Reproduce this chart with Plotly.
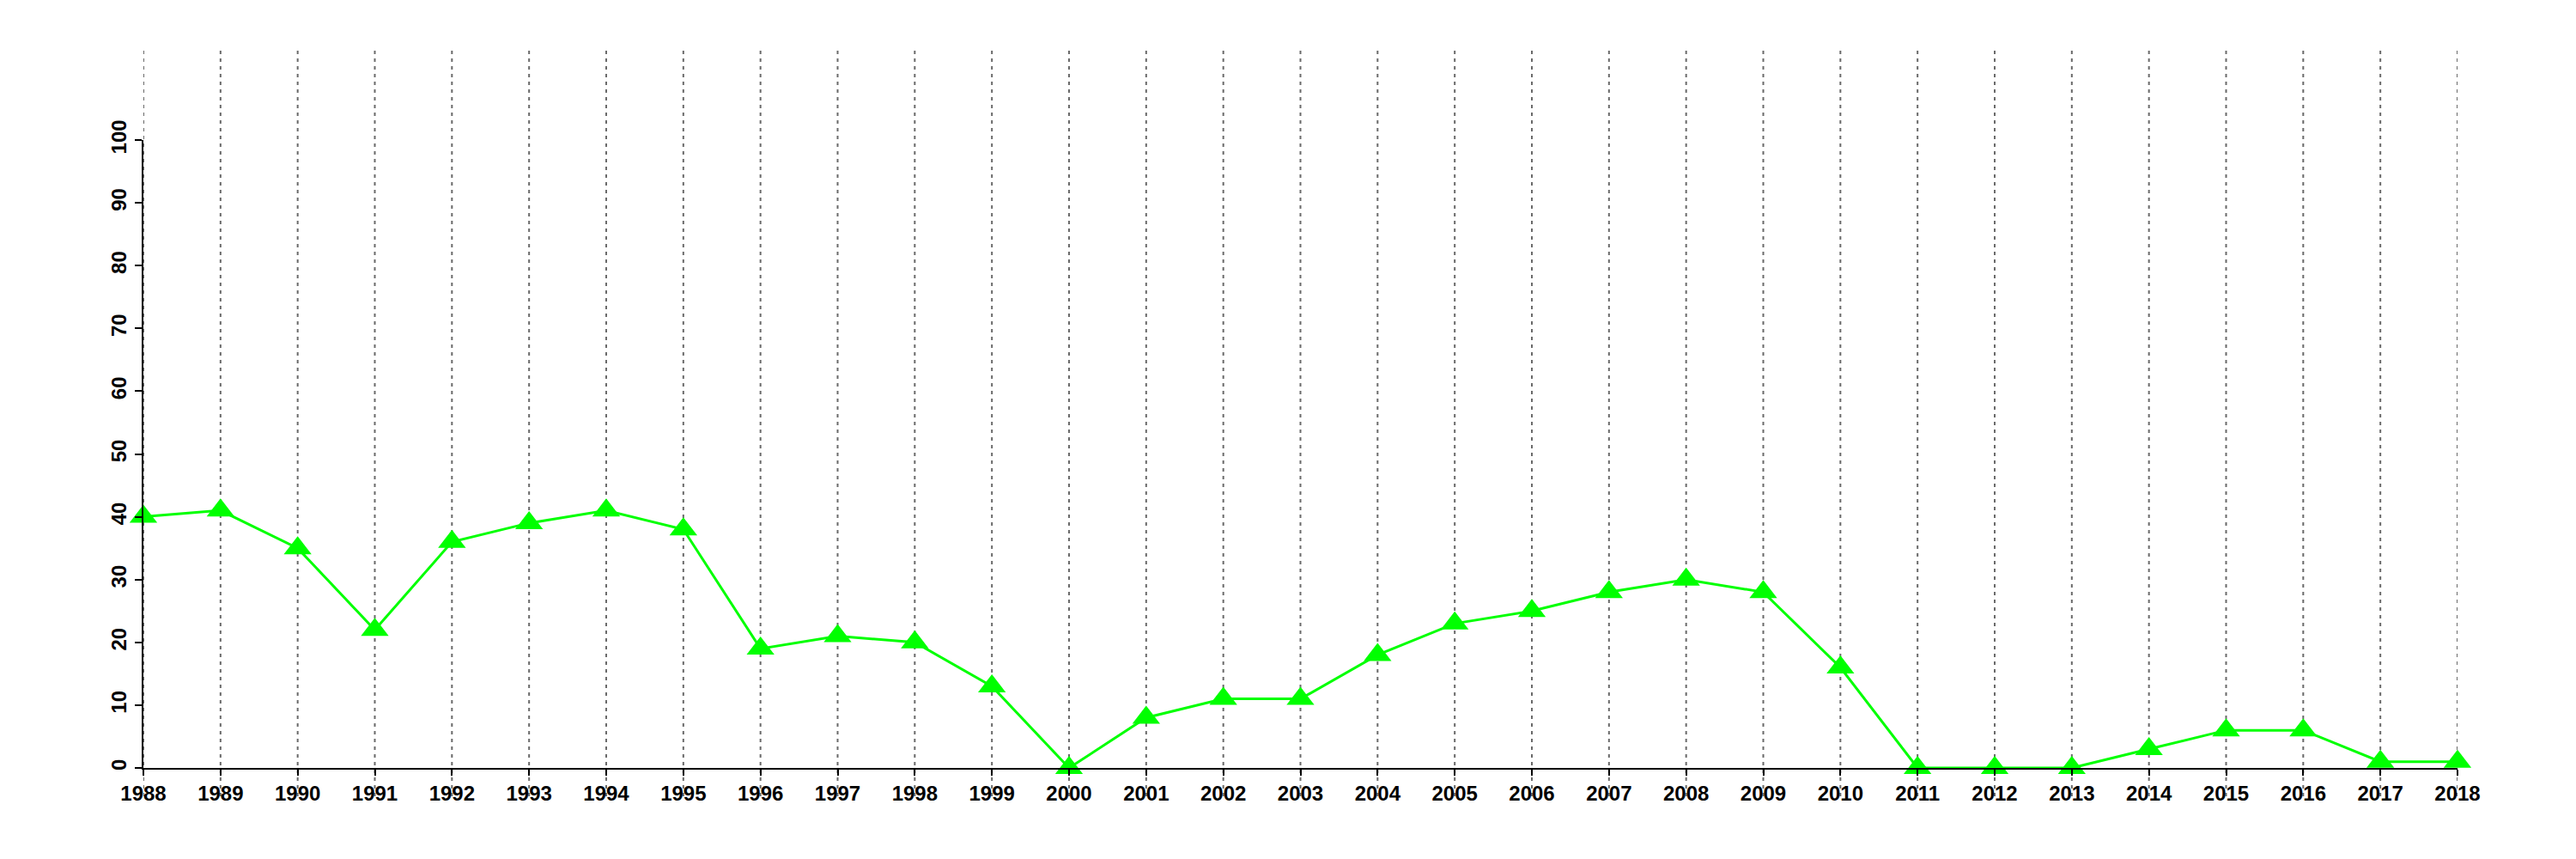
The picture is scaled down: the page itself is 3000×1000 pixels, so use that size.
import plotly.graph_objects as go

years = list(range(1988, 2019))
values = [40, 41, 35, 22, 36, 39, 41, 38, 19, 21, 20, 13, 0, 8, 11, 11, 18, 23, 25, 28,
          30, 28, 16, 0, 0, 0, 3, 6, 6, 1, 1]
y_ticks = list(range(0, 101, 10))

# page body has an 8px margin; compensate so the plot lands where the reference has it
OFF = 8
W, H = 3000 - 2 * OFF, 1000 - 2 * OFF
L, T = 167 - OFF, 163 - OFF
R = W - (2862 - OFF)
B = H - (894 - OFF)
plot_h = H - T - B

fig = go.Figure()
fig.add_trace(go.Scatter(
    x=years, y=values, mode="lines+markers",
    line=dict(color="#00FF00", width=3),
    marker=dict(symbol="triangle-up", size=28, color="#00FF00"),
    cliponaxis=False, showlegend=False,
))

grid_top = 1 + (T - (59 - OFF)) / plot_h
grid_bot = -((927 - OFF) - (H - B)) / plot_h
for yr in years:
    fig.add_shape(type="line", xref="x", yref="paper", x0=yr, x1=yr,
                  y0=grid_bot, y1=grid_top, layer="below",
                  line=dict(color="#6a6a6a", width=2, dash="4px,5px"))

tickfont = dict(family="Liberation Sans, Arial, sans-serif", size=24, color="black", weight="bold")
fig.update_xaxes(range=[years[0], years[-1]], tickvals=years, ticktext=[str(y) for y in years],
                 showgrid=False, zeroline=False, showline=True, linecolor="black", linewidth=2,
                 ticks="outside", ticklen=7, tickwidth=2, tickcolor="black",
                 tickfont=tickfont, tickangle=0, automargin=False)
fig.update_yaxes(range=[0, 100], tickvals=y_ticks, showgrid=False, zeroline=False,
                 showline=True, linecolor="black", linewidth=2,
                 ticks="outside", ticklen=8, tickwidth=2, tickcolor="black",
                 tickfont=tickfont, tickangle=-90, automargin=False)
fig.update_layout(template="none", width=W, height=H, margin=dict(l=L, r=R, t=T, b=B),
                  plot_bgcolor="white", paper_bgcolor="white")
fig.write_html("out.html")
